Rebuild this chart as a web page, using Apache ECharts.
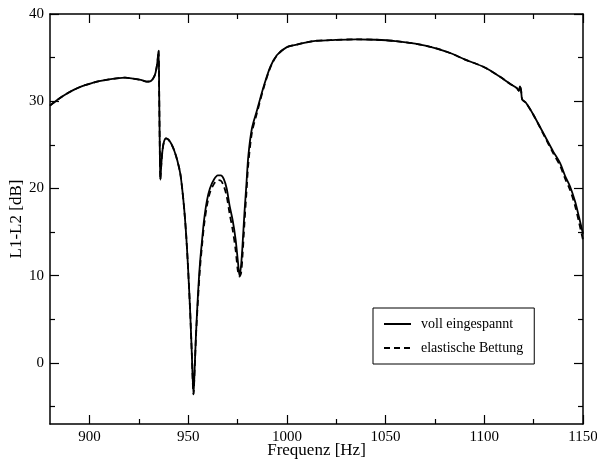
<!DOCTYPE html>
<html><head><meta charset="utf-8">
<script src="https://cdn.jsdelivr.net/npm/echarts@6/dist/echarts.min.js"></script>
<style>html,body{margin:0;padding:0;background:#fff}#c{width:597px;height:459px}</style>
</head><body><div id="c"></div>
<script>
const seriesNames = ['voll eingespannt', 'elastische Bettung'];
const freq = [880,884,888,892,896,900,905,910,915,918,922,926,929,931,932.5,933.5,934.3,935.0,935.3,935.6,935.9,936.4,937.0,937.8,938.8,940,941.5,943,944.5,946,947,948,949,950,951,951.8,952.7,953.3,954,955,956,957,958,959.5,961,963,965,966.5,968,969.5,971,972.5,974,975.2,976,976.8,977.5,978.5,979.5,980.5,982.3,984.9,988.2,991.6,995,1000,1005,1013.5,1022,1035,1045,1055,1065,1075,1083,1090,1100,1108,1113,1116.5,1117.5,1118,1118.6,1119.2,1121,1125,1130,1135,1138.4,1141,1143.5,1146,1148,1150];
const vollEingespannt = [29.5,30.2,30.8,31.3,31.7,32.0,32.3,32.5,32.65,32.7,32.6,32.45,32.25,32.3,32.7,33.3,34.3,35.8,31.0,25.0,21.0,22.8,24.4,25.4,25.75,25.6,25.1,24.3,23.2,21.7,19.9,17.6,14.6,10.6,5.9,1.3,-3.6,-0.5,3.5,8.0,11.5,14.0,16.3,18.6,20.0,21.0,21.5,21.5,21.1,20.0,18.0,16.4,14.2,11.6,10.0,11.2,13.4,17.2,20.5,23.8,26.9,29.0,31.66,33.95,35.3,36.2,36.5,36.9,37.0,37.1,37.05,36.9,36.6,36.1,35.5,34.8,33.9,32.8,32.0,31.5,31.2,31.7,31.3,30.2,29.85,28.4,26.3,24.2,22.9,21.4,20.2,18.5,16.7,14.8];
const elastischeBettung = [29.5,30.2,30.8,31.3,31.7,32.0,32.3,32.5,32.65,32.7,32.6,32.45,32.25,32.3,32.7,33.3,34.3,35.8,31.0,25.0,21.0,22.8,24.4,25.4,25.75,25.6,25.1,24.3,23.2,21.7,19.9,17.6,14.6,10.6,5.9,1.3,-3.6,-0.6,3.3,7.4,10.9,13.4,15.7,18.0,19.5,20.5,20.95,20.9,20.3,19.1,17.1,15.3,13.0,10.5,9.9,10.3,12.2,16.0,19.5,22.9,26.4,28.7,31.5,33.85,35.25,36.2,36.5,36.9,37.0,37.1,37.05,36.9,36.6,36.1,35.5,34.8,33.9,32.8,32.0,31.5,31.2,31.7,31.3,30.2,29.85,28.4,26.2,24.0,22.6,21.1,19.8,18.0,16.1,14.1];
const xMajorTicks = [900,950,1000,1050,1100,1150];
const xMinorTicks = [925,975,1025,1075,1125];
const yMajorTicks = [0,10,20,30,40];
const yMinorTicks = [-5,5,15,25,35];

const FONT = 'Liberation Serif';
const chart = echarts.init(document.getElementById('c'));
const grid = {left: 50, right: 14, top: 14, bottom: 35, containLabel: false, outerBoundsMode: 'none'};
function xAx(pos, ticks, len, labels, line) {
  return {
    type: 'value', position: pos, min: 880, max: 1150,
    axisLine: {show: line, onZero: false, lineStyle: {color: '#000', width: 1.5}},
    axisTick: {show: true, inside: true, length: len, customValues: ticks, lineStyle: {color: '#000', width: 1.2}},
    axisLabel: labels ? {show: true, customValues: ticks, margin: 6, color: '#000', fontFamily: FONT, fontSize: 15, formatter: v => String(v)} : {show: false},
    splitLine: {show: false},
    name: labels ? 'Frequenz [Hz]' : '', nameLocation: 'middle', nameGap: 18, nameMoveOverlap: false,
    nameTextStyle: {color: '#000', fontFamily: FONT, fontSize: 17}
  };
}
function yAx(pos, ticks, len, labels, line) {
  return {
    type: 'value', position: pos, min: -7, max: 40,
    axisLine: {show: line, onZero: false, lineStyle: {color: '#000', width: 1.5}},
    axisTick: {show: true, inside: true, length: len, customValues: ticks, lineStyle: {color: '#000', width: 1.2}},
    axisLabel: labels ? {show: true, customValues: ticks, margin: 6, color: '#000', fontFamily: FONT, fontSize: 15, formatter: v => String(v)} : {show: false},
    splitLine: {show: false},
    name: labels ? 'L1-L2 [dB]' : '', nameLocation: 'middle', nameGap: 25, nameRotate: 90, nameMoveOverlap: false,
    nameTextStyle: {color: '#000', fontFamily: FONT, fontSize: 17}
  };
}
chart.setOption({
  animation: false,
  backgroundColor: '#fff',
  grid: grid,
  xAxis: [xAx('bottom', xMajorTicks, 9, true, true), xAx('bottom', xMinorTicks, 5, false, false),
          xAx('top', xMajorTicks, 9, false, true), xAx('top', xMinorTicks, 5, false, false)],
  yAxis: [yAx('left', yMajorTicks, 9, true, true), yAx('left', yMinorTicks, 5, false, false),
          yAx('right', yMajorTicks, 9, false, true), yAx('right', yMinorTicks, 5, false, false)],
  legend: {
    orient: 'vertical', left: 373, top: 308,
    borderColor: '#000', borderWidth: 1, padding: [9, 11, 9, 10],
    itemWidth: 27, itemHeight: 14, itemGap: 10,
    itemStyle: {opacity: 0},
    textStyle: {color: '#000', fontFamily: FONT, fontSize: 14, padding: [0, 0, 0, 5]},
    data: seriesNames
  },
  series: [
    {name: seriesNames[0], type: 'line', symbol: 'none', smooth: 0.3, xAxisIndex: 0, yAxisIndex: 0,
     data: freq.map((f, i) => [f, vollEingespannt[i]]),
     lineStyle: {color: '#000', width: 1.8}, itemStyle: {color: '#000'}},
    {name: seriesNames[1], type: 'line', symbol: 'none', smooth: 0.3, xAxisIndex: 0, yAxisIndex: 0,
     data: freq.map((f, i) => [f, elastischeBettung[i]]),
     lineStyle: {color: '#000', width: 1.8, type: [6, 4]}, itemStyle: {color: '#000'}}
  ]
});
</script></body></html>
